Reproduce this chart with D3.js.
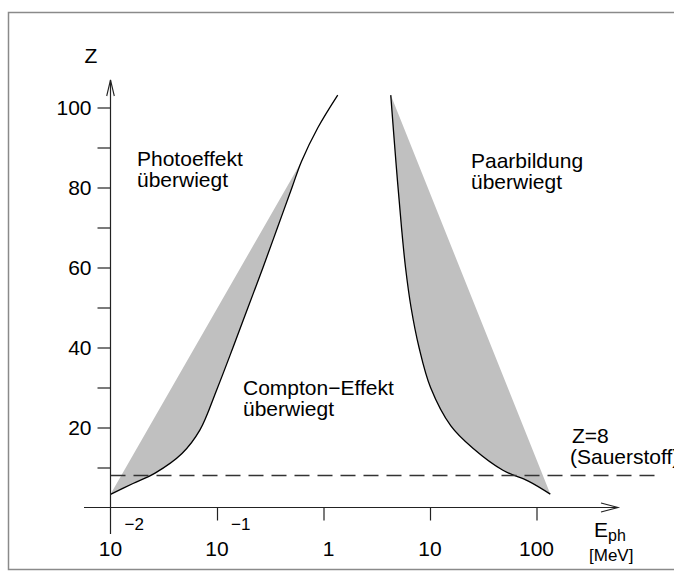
<!DOCTYPE html>
<html>
<head>
<meta charset="utf-8">
<script src="https://cdn.jsdelivr.net/npm/d3@7/dist/d3.min.js"></script>
<style>
  body { margin: 0; background: #fff; overflow: hidden; }
  svg { display: block; font-family: 'Liberation Sans', Arial, sans-serif; }
</style>
</head>
<body>
<div id="chart"></div>
<script>
'use strict'

// boundary photo effect / Compton effect (E in MeV, Z)
var comptonLeftE = [0.01, 0.01626, 0.0262, 0.0469, 0.0692, 0.0993, 0.1413, 0.1954, 0.2704, 0.370, 0.506, 0.621, 0.887, 1.36]
var comptonLeftZ = [3.3, 6, 8.6, 13.5, 19.4, 29.4, 40, 50, 60, 70, 80, 86.5, 95, 103.1]
// straight edge of the grey band on the photo effect side
var photoEdgeE = [0.01, 0.621]
var photoEdgeZ = [3.3, 86.5]

// boundary Compton effect / pair production
var pairCurveE = [4.28, 4.80, 5.40, 5.89, 6.64, 7.89, 10.12, 15.7, 25.3, 48.4, 84.7, 134.8]
var pairCurveZ = [103.1, 86, 70, 60, 50, 40, 30, 20.4, 14.8, 9.3, 6.55, 3.35]
var pairEdgeE = [4.28, 134.8]
var pairEdgeZ = [103.1, 3.35]

// oxygen line
var oxygenZ = 8
var oxygenE = [0.01, 1500]

var xTicks = [0.01, 0.1, 1, 10, 100]
var xTickBase = ['10', '10', '1', '10', '100']
var xTickExp = ['\u22122', '\u22121', '', '', '']
var yTicks = [10, 20, 30, 40, 50, 60, 70, 80, 90, 100]
var yLabelTicks = [20, 40, 60, 80, 100]

var width = 674
var height = 576

var svg = d3
  .select('#chart')
  .append('svg')
  .attr('width', width)
  .attr('height', height)

var x = d3.scaleLog().domain([0.01, 100]).range([110.5, 536.5])
var y = d3.scaleLinear().domain([0, 100]).range([507.5, 107.5])

function pts(es, zs) {
  return es.map(function(e, i) {
    return [x(e), y(zs[i])]
  })
}

var curveLine = d3
  .line()
  .curve(d3.curveCatmullRom.alpha(0.5))

// frame (right side runs off the picture)
svg
  .append('path')
  .attr('d', 'M680,12.5H8.5V569.5H680')
  .attr('fill', 'none')
  .attr('stroke', '#8a8a8a')
  .attr('stroke-width', 1.5)

// grey bands
var leftCurve = pts(comptonLeftE, comptonLeftZ)
var leftEdge = pts(photoEdgeE, photoEdgeZ)
var leftPart = leftCurve
  .filter(function(p, i) {
    return comptonLeftZ[i] <= photoEdgeZ[1]
  })
  .reverse()
var leftFill =
  'M' + leftEdge[0] + 'L' + leftEdge[1] +
  curveLine(leftPart).replace(/^M/, 'L') + 'Z'

var rightCurve = pts(pairCurveE, pairCurveZ)
var rightEdge = pts(pairEdgeE, pairEdgeZ)
var rightFill =
  'M' + rightEdge[0] + 'L' + rightEdge[1] +
  curveLine(rightCurve.slice().reverse()).replace(/^M/, 'L') + 'Z'

svg
  .selectAll('path.band')
  .data([leftFill, rightFill])
  .enter()
  .append('path')
  .attr('class', 'band')
  .attr('d', function(d) { return d })
  .attr('fill', '#c0c0c0')
  .attr('stroke', 'none')

// boundary curves
svg
  .selectAll('path.boundary')
  .data([leftCurve, rightCurve])
  .enter()
  .append('path')
  .attr('class', 'boundary')
  .attr('d', curveLine)
  .attr('fill', 'none')
  .attr('stroke', '#000')
  .attr('stroke-width', 1.3)

// Z = 8 dashed line
svg
  .append('line')
  .attr('x1', x(oxygenE[0]))
  .attr('x2', x(oxygenE[1]))
  .attr('y1', y(oxygenZ))
  .attr('y2', y(oxygenZ))
  .attr('stroke', '#333')
  .attr('stroke-width', 1.3)
  .attr('stroke-dasharray', '15,8')

var axisColor = '#222'

// y axis
var yAxis = d3
  .axisLeft(y)
  .tickValues(yTicks)
  .tickSize(13)
  .tickPadding(6)
  .tickFormat(function(d) {
    return yLabelTicks.indexOf(d) >= 0 ? d : ''
  })

var gy = svg
  .append('g')
  .attr('transform', 'translate(' + x(0.01) + ',0)')
  .call(yAxis)
gy.select('.domain').remove()
gy.selectAll('line').attr('stroke', axisColor).attr('stroke-width', 1.2)
gy.selectAll('text')
  .attr('font-family', "'Liberation Sans', Arial, sans-serif")
  .attr('font-size', '21px')
  .attr('fill', '#000')

// x axis
var xAxis = d3
  .axisBottom(x)
  .tickValues(xTicks.slice(1))
  .tickSize(13)
  .tickFormat('')

var gx = svg
  .append('g')
  .attr('transform', 'translate(0,' + y(0) + ')')
  .call(xAxis)
gx.select('.domain').remove()
gx.selectAll('line').attr('stroke', axisColor).attr('stroke-width', 1.2)

// axis lines with open arrows
svg
  .append('line')
  .attr('x1', 84)
  .attr('x2', 618)
  .attr('y1', y(0))
  .attr('y2', y(0))
  .attr('stroke', axisColor)
  .attr('stroke-width', 1.2)
svg
  .append('path')
  .attr('d', 'M601,' + (y(0) - 4.5) + 'L618,' + y(0) + 'L601,' + (y(0) + 4.5))
  .attr('fill', 'none')
  .attr('stroke', axisColor)
  .attr('stroke-width', 1.1)

svg
  .append('line')
  .attr('x1', x(0.01))
  .attr('x2', x(0.01))
  .attr('y1', 534)
  .attr('y2', 80)
  .attr('stroke', axisColor)
  .attr('stroke-width', 1.2)
svg
  .append('path')
  .attr('d', 'M' + (x(0.01) - 3.8) + ',96L' + x(0.01) + ',80L' + (x(0.01) + 3.8) + ',96')
  .attr('fill', 'none')
  .attr('stroke', axisColor)
  .attr('stroke-width', 1.1)

// x tick labels: powers of ten
var xl = svg
  .selectAll('g.xlab')
  .data(xTicks)
  .enter()
  .append('g')
  .attr('class', 'xlab')
  .attr('transform', function(d) {
    return 'translate(' + x(d) + ',0)'
  })

xl.append('text')
  .attr('x', function(d, i) { return xTickBase[i] === '1' ? 5 : 0 })
  .attr('y', 556)
  .attr('text-anchor', 'middle')
  .attr('font-size', '21px')
  .text(function(d, i) { return xTickBase[i] })

xl.append('text')
  .attr('x', 14)
  .attr('y', 530)
  .attr('font-size', '17px')
  .text(function(d, i) { return xTickExp[i] })

// axis titles
svg
  .append('text')
  .attr('x', 91)
  .attr('y', 63)
  .attr('text-anchor', 'middle')
  .attr('font-size', '21px')
  .text('Z')

var eph = svg
  .append('text')
  .attr('x', 594)
  .attr('y', 537)
  .attr('font-size', '21px')
eph.append('tspan').text('E')
eph.append('tspan').attr('font-size', '16px').attr('dy', 4).text('ph')

svg
  .append('text')
  .attr('x', 589)
  .attr('y', 561)
  .attr('font-size', '17px')
  .text('[MeV]')

// region labels
var notes = [
  { lines: ['Photoeffekt', 'überwiegt'], x: 137, y: 166 },
  { lines: ['Paarbildung', 'überwiegt'], x: 471, y: 168 },
  { lines: ['Compton\u2212Effekt', 'überwiegt'], x: 243, y: 395 },
  { lines: ['Z=8', '(Sauerstoff)'], x: 572, y: 443 }
]

notes.forEach(function(n) {
  var t = svg
    .append('text')
    .attr('x', n.x)
    .attr('y', n.y)
    .attr('font-size', '21px')
  n.lines.forEach(function(l, i) {
    t.append('tspan')
      .attr('x', n.x + (i === 1 && l.charAt(0) === '(' ? -2 : 0))
      .attr('dy', i === 0 ? 0 : 21)
      .text(l)
  })
})
</script>
</body>
</html>
